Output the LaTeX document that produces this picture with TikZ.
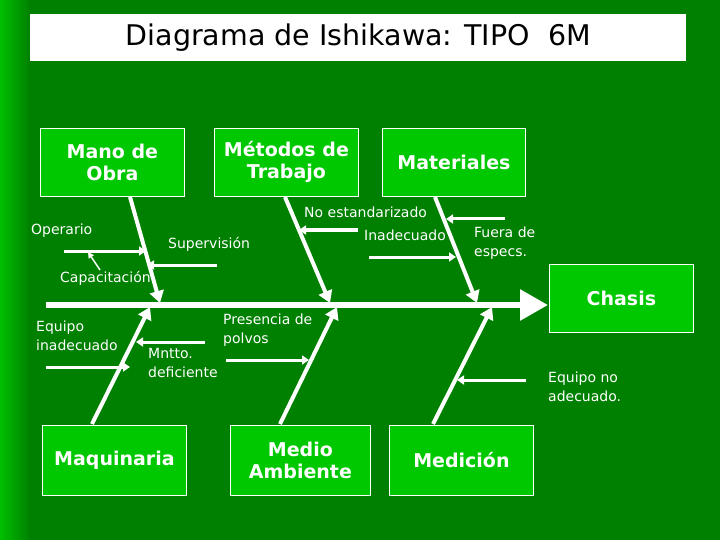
\documentclass[tikz,border=0pt]{standalone}
\usepackage{fontspec}
\setmainfont{DejaVu Sans}
\usetikzlibrary{arrows.meta}
\definecolor{bg}{RGB}{0,128,0}
\definecolor{boxg}{RGB}{0,200,0}
\tikzset{
  cat/.style={draw=white,fill=boxg,line width=0.8pt,text=white,font=\fontsize{19}{22}\selectfont\bfseries,align=center,inner sep=0pt},
  lbl/.style={text=white,font=\fontsize{14}{19}\selectfont,align=left,anchor=north west,inner sep=0pt},
  bone/.style={white,line width=4pt,-{Triangle[length=12pt,width=14pt]}},
  sub/.style={white,line width=3pt,-{Triangle[length=7pt,width=9pt]}},
}
\begin{document}
\begin{tikzpicture}[x=1pt,y=-1pt]
\useasboundingbox (0,0) rectangle (720,540);
\fill[bg] (0,0) rectangle (720,540);
\shade[left color=green!75!black,right color=bg] (0,0) rectangle (30,540);
\node[draw=none,fill=white,minimum width=656pt,minimum height=47pt,anchor=north west,inner sep=0pt,font=\fontsize{28.5}{31}\selectfont] (title) at (30,14) {Diagrama de Ishikawa: TIPO~~6M};
% category boxes
\node[cat,minimum width=144pt,minimum height=68pt,anchor=north west] (mano) at (40,128) {Mano de\\Obra};
\node[cat,minimum width=144pt,minimum height=68pt,anchor=north west] (metodos) at (214,128) {Métodos de\\Trabajo};
\node[cat,minimum width=143pt,minimum height=68pt,anchor=north west] (mat) at (382,128) {Materiales};
\node[cat,minimum width=144pt,minimum height=68pt,anchor=north west] (chasis) at (549,264) {Chasis};
\node[cat,minimum width=144pt,minimum height=70pt,anchor=north west] (maq) at (42,425) {Maquinaria};
\node[cat,minimum width=140pt,minimum height=70pt,anchor=north west] (medio) at (230,425) {Medio\\Ambiente};
\node[cat,minimum width=144pt,minimum height=70pt,anchor=north west] (medic) at (389,425) {Medición};
% spine
\coordinate (tail) at (46,305);
\coordinate (head) at (548,305);
\draw[white,line width=6pt,-{Triangle[length=28pt,width=30pt]}] (tail) -- (head);
% bone ends
\coordinate (b1s) at (130,197); \coordinate (b1e) at (160,303);
\coordinate (b2s) at (285,197); \coordinate (b2e) at (330,303);
\coordinate (b3s) at (435,197); \coordinate (b3e) at (477,303);
\coordinate (b4s) at (92,424);  \coordinate (b4e) at (150,307);
\coordinate (b5s) at (280,424); \coordinate (b5e) at (337,307);
\coordinate (b6s) at (433,424); \coordinate (b6e) at (492,307);
\draw[bone] (b1s) -- (b1e);
\draw[bone] (b2s) -- (b2e);
\draw[bone] (b3s) -- (b3e);
\draw[bone] (b4s) -- (b4e);
\draw[bone] (b5s) -- (b5e);
\draw[bone] (b6s) -- (b6e);
% sub causes
\node[lbl] (operario) at (31,224) {Operario};
\coordinate (o1) at (64,251); \coordinate (o2) at (146,251);
\draw[sub] (o1) -- (o2);
\node[lbl] (capac) at (60,271) {Capacitación};
\coordinate (c1) at (100,270); \coordinate (c2) at (88,252);
\draw[white,line width=1.5pt,-{Triangle[length=6pt,width=6pt]}] (c1) -- (c2);
\node[lbl] (superv) at (168,237) {Supervisión};
\coordinate (s1) at (217,265); \coordinate (s2) at (147,265);
\draw[sub] (s1) -- (s2);
\node[lbl] (noest) at (304,207) {No estandarizado};
\coordinate (n1) at (358,230); \coordinate (n2) at (299,230);
\draw[sub] (n1) -- (n2);
\node[lbl] (inad) at (364,230) {Inadecuado};
\coordinate (i1) at (369,257); \coordinate (i2) at (456,257);
\draw[sub] (i1) -- (i2);
\node[lbl] (fuera) at (474,227) {Fuera de\\especs.};
\coordinate (f1) at (505,219); \coordinate (f2) at (446,219);
\draw[sub] (f1) -- (f2);
\node[lbl] (eqin) at (36,321) {Equipo\\inadecuado};
\coordinate (e1) at (46,367); \coordinate (e2) at (130,367);
\draw[sub] (e1) -- (e2);
\node[lbl] (mntto) at (148,348) {Mntto.\\deficiente};
\coordinate (m1) at (205,342); \coordinate (m2) at (136,342);
\draw[sub] (m1) -- (m2);
\node[lbl] (polvos) at (223,314) {Presencia de\\polvos};
\coordinate (p1) at (226,360); \coordinate (p2) at (309,360);
\draw[sub] (p1) -- (p2);
\node[lbl] (eqno) at (548,372) {Equipo no\\adecuado.};
\coordinate (q1) at (526,380); \coordinate (q2) at (457,380);
\draw[sub] (q1) -- (q2);
\end{tikzpicture}
\end{document}
